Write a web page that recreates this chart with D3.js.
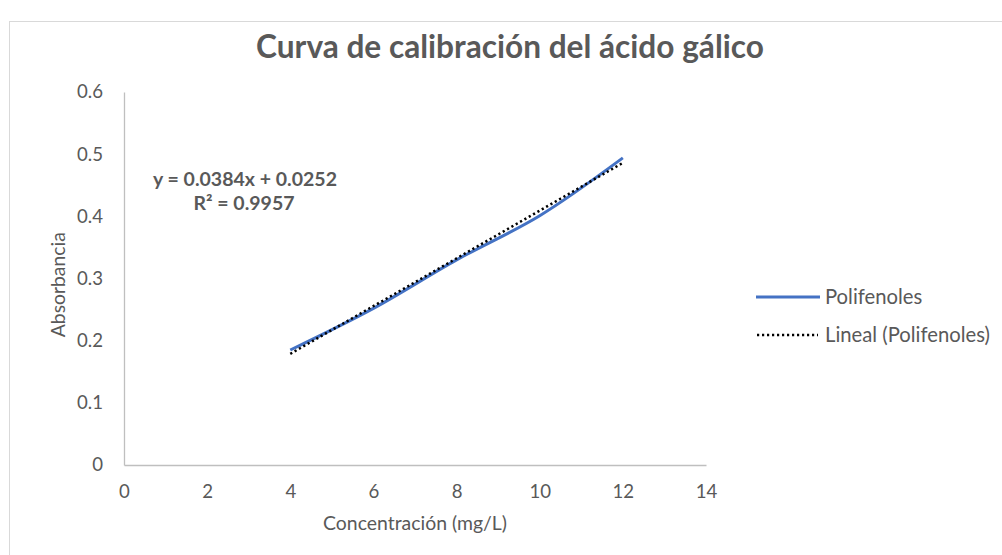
<!DOCTYPE html>
<html>
<head>
<meta charset="utf-8">
<script src="https://cdn.jsdelivr.net/npm/d3@7"></script>
<style>
  body { margin: 0; background: #fff; }
  svg { display: block; }
</style>
</head>
<body>
<div id="chart"></div>
<script>
const width = 1002,
  height = 555,
  margin = { left: 124, right: 296, top: 92, bottom: 90 };

// measured points (concentración mg/L, absorbancia)
const concentracion = [4, 6, 8, 10, 12];
const absorbancia = [0.185, 0.252, 0.33, 0.401, 0.494];
// trendline as printed on the chart
const pendiente = 0.0384,
  intercepto = 0.0252,
  r2 = 0.9957;
const xTicks = [0, 2, 4, 6, 8, 10, 12, 14];
const yTicks = [0, 0.1, 0.2, 0.3, 0.4, 0.5, 0.6];
const seriesNames = ["Polifenoles", "Lineal (Polifenoles)"];

const font = "Lato, 'Open Sans', sans-serif";
const textColor = "#595959";

// scale a text's font size so that it spans the width seen in the original
function fitWidth(sel, w) {
  const fs = parseFloat(sel.attr("font-size"));
  const len = sel.node().getComputedTextLength();
  sel.attr("font-size", (fs * w) / len);
  return (fs * w) / len;
}

const points = concentracion.map((x, i) => ({ x, y: absorbancia[i] }));

const xScale = d3.scaleLinear().domain([0, 14]).range([margin.left, width - margin.right]);
const yScale = d3.scaleLinear().domain([0, 0.6]).range([height - margin.bottom, margin.top]);

const svg = d3
  .select("#chart")
  .append("svg")
  .attr("width", width)
  .attr("height", height)
  .style("font-family", font);

// chart frame
svg
  .append("rect")
  .attr("x", 9.5)
  .attr("y", 21.5)
  .attr("width", width + 20)
  .attr("height", height + 20)
  .attr("fill", "#fff")
  .attr("stroke", "#d9d9d9");

const title = svg
  .append("text")
  .attr("x", 510)
  .attr("y", 58)
  .attr("text-anchor", "middle")
  .attr("font-size", "25px")
  .attr("font-weight", "bold")
  .attr("fill", textColor)
  .text("Curva de calibración del ácido gálico");
fitWidth(title, 508);

// axes
const xAxis = svg
  .append("g")
  .attr("transform", `translate(0,${yScale(0)})`)
  .call(d3.axisBottom(xScale).tickValues(xTicks).tickSize(0).tickFormat(d3.format("d")));

const yAxis = svg
  .append("g")
  .attr("transform", `translate(${xScale(0)},0)`)
  .call(d3.axisLeft(yScale).tickValues(yTicks).tickSize(0).tickPadding(21).tickFormat((d) => (d === 0 ? "0" : d3.format(".1f")(d))));

[xAxis, yAxis].forEach((g) => {
  g.select(".domain").attr("stroke", "#bfbfbf").attr("stroke-width", 1.3);
  g.selectAll("text").attr("fill", textColor).attr("font-size", "16px").attr("font-family", font);
});
const tickSize = fitWidth(yAxis.select(".tick:last-of-type text"), 26);
xAxis.selectAll("text").attr("font-size", tickSize).attr("y", 26).attr("dy", "0.35em");
yAxis.selectAll("text").attr("font-size", tickSize);

const xTitle = svg
  .append("text")
  .attr("x", xScale(7))
  .attr("y", 530)
  .attr("text-anchor", "middle")
  .attr("font-size", "18px")
  .attr("fill", textColor)
  .text("Concentración (mg/L)");
fitWidth(xTitle, 184);

const yTitle = svg
  .append("text")
  .attr("transform", `translate(65,${yScale(0.29)}) rotate(-90)`)
  .attr("text-anchor", "middle")
  .attr("font-size", "18px")
  .attr("fill", textColor)
  .text("Absorbancia");
fitWidth(yTitle, 105);

// data line (smoothed like the spreadsheet)
const line = d3
  .line()
  .x((d) => xScale(d.x))
  .y((d) => yScale(d.y))
  .curve(d3.curveCatmullRom);

svg
  .append("path")
  .datum(points)
  .attr("fill", "none")
  .attr("stroke", "#4472c4")
  .attr("stroke-width", 3)
  .attr("d", line);

// trendline
const xr = d3.extent(concentracion);
svg
  .append("line")
  .attr("x1", xScale(xr[0]))
  .attr("y1", yScale(pendiente * xr[0] + intercepto))
  .attr("x2", xScale(xr[1]))
  .attr("y2", yScale(pendiente * xr[1] + intercepto))
  .attr("stroke", "#000")
  .attr("stroke-width", 2.5)
  .attr("stroke-dasharray", "2.2,2.8");

// equation
const eq = svg
  .append("g")
  .attr("fill", textColor)
  .attr("font-weight", "bold")
  .attr("text-anchor", "middle");
const eq1 = eq
  .append("text")
  .attr("x", 245)
  .attr("y", 186)
  .attr("font-size", "17px")
  .text(`y = ${pendiente}x + ${intercepto}`);
const eqSize = fitWidth(eq1, 184);
eq.append("text").attr("x", 244).attr("y", 210).attr("font-size", eqSize).text(`R² = ${r2}`);

// legend
const legend = svg.append("g").attr("transform", "translate(756,297)");
legend
  .append("line")
  .attr("x1", 0)
  .attr("x2", 64)
  .attr("stroke", "#4472c4")
  .attr("stroke-width", 3);
legend
  .append("line")
  .attr("x1", 1)
  .attr("x2", 62)
  .attr("y1", 38)
  .attr("y2", 38)
  .attr("stroke", "#000")
  .attr("stroke-width", 2.5)
  .attr("stroke-dasharray", "2.2,2.8");
const lg = legend
  .selectAll("text.lg")
  .data(seriesNames)
  .enter()
  .append("text")
  .attr("class", "lg")
  .attr("x", 69)
  .attr("y", (d, i) => i * 38)
  .attr("dy", "0.35em")
  .attr("font-size", "16px")
  .attr("fill", textColor)
  .text((d) => d);
const lgSize = fitWidth(d3.select(lg.nodes()[1]), 165);
lg.attr("font-size", lgSize);
</script>
</body>
</html>
